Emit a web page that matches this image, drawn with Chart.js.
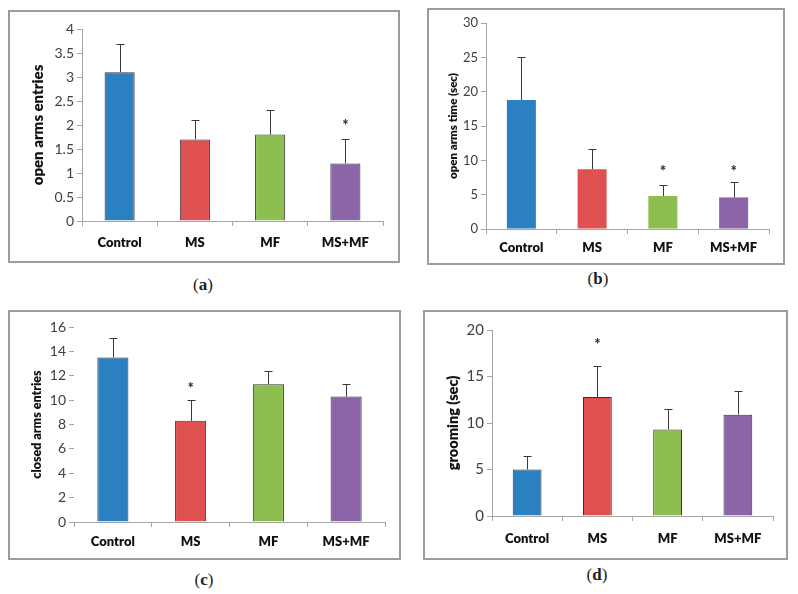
<!DOCTYPE html>
<html>
<head>
<meta charset="utf-8">
<script src="https://cdn.jsdelivr.net/npm/chart.js@4.4.1/dist/chart.umd.min.js"></script>
<style>
    body { margin: 0; background: #fff; width: 798px; height: 594px; position: relative; overflow: hidden; }
    .box { position: absolute; border: 2px solid #9c9c9c; background: #fff; }
    .box canvas { position: absolute; left: 0; top: 0; }
    .lbl { position: absolute; font-family: "Liberation Serif", serif; font-size: 17px; color: #222; transform: translate(-50%, -50%); }
</style>
</head>
<body>
<div class="box" style="left:8px; top:10px; width:388px; height:249px;"><canvas id="chartA" width="388" height="249"></canvas></div>
<div class="box" style="left:427px; top:8px; width:354px; height:253px;"><canvas id="chartB" width="354" height="253"></canvas></div>
<div class="box" style="left:8px; top:310px; width:389px; height:246px;"><canvas id="chartC" width="389" height="246"></canvas></div>
<div class="box" style="left:423px; top:310px; width:361px; height:246px;"><canvas id="chartD" width="361" height="246"></canvas></div>
<div class="lbl" style="left:203px; top:285px;">(<b>a</b>)</div>
<div class="lbl" style="left:598px; top:279px;">(<b>b</b>)</div>
<div class="lbl" style="left:204px; top:580px;">(<b>c</b>)</div>
<div class="lbl" style="left:597px; top:575px;">(<b>d</b>)</div>

<script>
// data
const groups = ['Control', 'MS', 'MF', 'MS+MF'];
const barColors = ['#2a80c1', '#df5050', '#8cbf50', '#8b65a7'];

const openEntries = [3.1, 1.7, 1.8, 1.2];
const openEntriesErr = [0.58, 0.41, 0.52, 0.5];
const openEntriesStar = [null, null, null, 2.05];

const openTime = [18.8, 8.7, 4.8, 4.6];
const openTimeErr = [6.3, 2.9, 1.6, 2.2];
const openTimeStar = [null, null, 8.8, 8.8];

const closedEntries = [13.5, 8.3, 11.3, 10.3];
const closedEntriesErr = [1.6, 1.7, 1.1, 1.0];
const closedEntriesStar = [null, 11.2, null, null];

const grooming = [5.0, 12.8, 9.3, 10.9];
const groomingErr = [1.4, 3.3, 2.2, 2.5];
const groomingStar = [null, 18.8, null, null];

// error bars (upper half only) and significance stars
const errorBarPlugin = {
    id: 'errorBars',
    afterDatasetsDraw(chart, args, opts) {
        let ctx = chart.ctx;
        let y = chart.scales.y;
        let meta = chart.getDatasetMeta(0);
        ctx.save();
        ctx.strokeStyle = '#3a3a3a';
        ctx.lineWidth = 1;
        meta.data.forEach((bar, i) => {
            let v = chart.data.datasets[0].data[i];
            let top = y.getPixelForValue(v + opts.err[i]);
            let x = Math.round(bar.x) + 0.5;
            ctx.beginPath();
            ctx.moveTo(x, bar.y);
            ctx.lineTo(x, Math.round(top) + 0.5);
            ctx.moveTo(x - 4, Math.round(top) + 0.5);
            ctx.lineTo(x + 4, Math.round(top) + 0.5);
            ctx.stroke();
            if (opts.stars[i] != null) {
                ctx.fillStyle = '#333';
                ctx.font = '800 14px Lato';
                ctx.textAlign = 'center';
                ctx.textBaseline = 'middle';
                ctx.fillText('*', bar.x, y.getPixelForValue(opts.stars[i]) + 3);
            }
        });
        ctx.restore();
    }
};

function makeChart(id, values, err, stars, o) {
    let ctx = document.getElementById(id).getContext('2d');
    return new Chart(ctx, {
        type: 'bar',
        data: {
            labels: groups,
            datasets: [{
                data: values,
                backgroundColor: barColors,
                borderColor: '#333',
                borderWidth: o.barBorder,
                categoryPercentage: 1,
                barPercentage: o.barPct
            }]
        },
        options: {
            responsive: false,
            animation: false,
            events: [],
            layout: { padding: { top: o.top, right: o.right, left: 0, bottom: 0 } },
            plugins: {
                legend: { display: false },
                tooltip: { enabled: false },
                errorBars: { err: err, stars: stars }
            },
            scales: {
                x: {
                    afterFit: function(scale) { scale.height = o.xHeight; },
                    grid: { display: true, drawOnChartArea: false, tickLength: 5, color: '#a6a6a6' },
                    border: { display: true, color: '#a6a6a6' },
                    ticks: { color: '#111', padding: o.xPad, font: { family: 'Lato', size: 13, weight: '800' } }
                },
                y: {
                    min: 0,
                    max: o.max,
                    afterFit: function(scale) { scale.width = o.left; },
                    grid: { display: true, drawOnChartArea: false, tickLength: 5, color: '#a6a6a6' },
                    border: { display: o.yLine, color: '#a6a6a6' },
                    ticks: {
                        stepSize: o.step,
                        padding: 3,
                        color: '#404040',
                        font: { family: 'Lato', size: o.tickSize },
                        callback: v => String(v)
                    },
                    title: {
                        display: true,
                        text: o.title,
                        color: '#111',
                        padding: { top: o.titleX - o.titleSize * 0.6, bottom: 0 },
                        font: { family: 'Lato', size: o.titleSize, weight: '800', lineHeight: 1.2 }
                    }
                }
            }
        },
        plugins: [errorBarPlugin]
    });
}

makeChart('chartA', openEntries, openEntriesErr, openEntriesStar, {
    max: 4, step: 0.5, top: 17, right: 15, left: 72, xHeight: 40, xPad: 9,
    barPct: 0.4, barBorder: 1, yLine: true, tickSize: 14,
    title: 'open arms entries', titleSize: 15, titleX: 28
});

makeChart('chartB', openTime, openTimeErr, openTimeStar, {
    max: 30, step: 5, top: 13, right: 14, left: 57, xHeight: 34, xPad: 6,
    barPct: 0.41, barBorder: 0, yLine: true, tickSize: 13,
    title: 'open arms time (sec)', titleSize: 11.5, titleX: 24
});

makeChart('chartC', closedEntries, closedEntriesErr, closedEntriesStar, {
    max: 16, step: 2, top: 15, right: 14, left: 64, xHeight: 36, xPad: 7,
    barPct: 0.4, barBorder: 1, yLine: false, tickSize: 14,
    title: 'closed arms entries', titleSize: 12.5, titleX: 27
});

makeChart('chartD', grooming, groomingErr, groomingStar, {
    max: 20, step: 5, top: 18, right: 13, left: 67, xHeight: 42, xPad: 10,
    barPct: 0.41, barBorder: 1, yLine: true, tickSize: 15,
    title: 'grooming (sec)', titleSize: 14.5, titleX: 28
});
</script>
</body>
</html>
